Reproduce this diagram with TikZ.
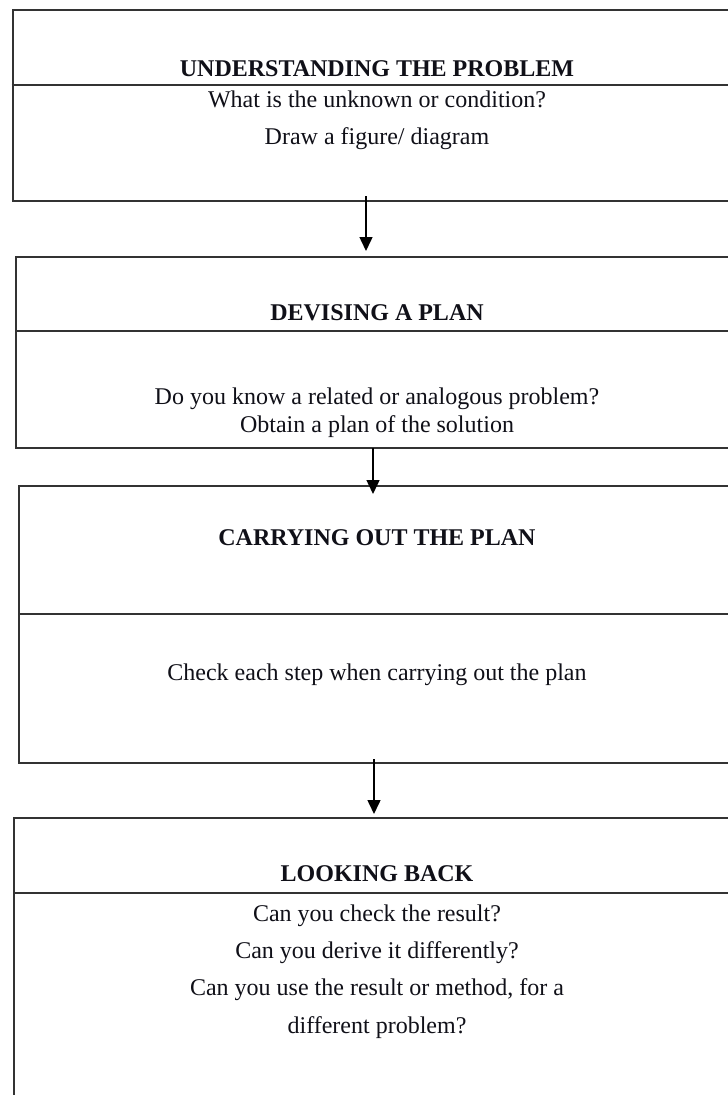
\documentclass[tikz,border=0pt]{standalone}
\usepackage{fontspec}
\setmainfont{Liberation Serif}
\usetikzlibrary{arrows.meta}
\definecolor{linegray}{HTML}{333333}
\definecolor{inkcol}{HTML}{101018}
\begin{document}
\begin{tikzpicture}[x=1pt,y=-1pt,
  boxline/.style={draw=linegray, line width=2pt},
  panel/.style={boxline, rectangle, inner sep=0pt, anchor=north west, minimum width=760pt},
  ttl/.style={font=\fontsize{24}{28}\selectfont\bfseries, text=inkcol, anchor=base, inner sep=0pt},
  txt/.style={font=\fontsize{24}{28}\selectfont, text=inkcol, anchor=base, inner sep=0pt},
  flow/.style={-{Triangle[length=14pt,width=13pt]}, line width=1.5pt, black}]
\useasboundingbox (0,0) rectangle (728,1095);
\clip (0,0) rectangle (728,1095);
\fill[white] (0,0) rectangle (728,1095);

% boxes
\node[panel, minimum height=190.7pt] (b1) at (11.7,9.3) {};
\node[panel, minimum height=191pt] (b2) at (15,256) {};
\node[panel, minimum height=277pt] (b3) at (18.3,485) {};
\node[panel, minimum height=320pt] (b4) at (13.3,817) {};

% dividers
\coordinate (d1) at (0,84.5);
\coordinate (d2) at (0,331);
\coordinate (d3) at (0,614);
\coordinate (d4) at (0,893);
\draw[boxline] (b1.west |- d1) -- (b1.east |- d1);
\draw[boxline] (b2.west |- d2) -- (b2.east |- d2);
\draw[boxline] (b3.west |- d3) -- (b3.east |- d3);
\draw[boxline] (b4.west |- d4) -- (b4.east |- d4);

% texts
\node[ttl] (t1) at (377,76) {UNDERSTANDING THE PROBLEM};
\node[txt] (l11) at (377,107) {What is the unknown or condition?};
\node[txt] (l12) at (377,144) {Draw a figure/ diagram};

\node[ttl] (t2) at (377,320) {DEVISING A PLAN};
\node[txt] (l21) at (377,404) {Do you know a related or analogous problem?};
\node[txt] (l22) at (377,432) {Obtain a plan of the solution};

\node[ttl] (t3) at (377,545) {CARRYING OUT THE PLAN};
\node[txt] (l31) at (377,680) {Check each step when carrying out the plan};

\node[ttl] (t4) at (377,881) {LOOKING BACK};
\node[txt] (l41) at (377,921) {Can you check the result?};
\node[txt] (l42) at (377,958) {Can you derive it differently?};
\node[txt] (l43) at (377,995) {Can you use the result or method, for a};
\node[txt] (l44) at (377,1033) {different problem?};

% arrows
\coordinate (a1s) at (366,196);
\coordinate (a1e) at (366,251);
\coordinate (a2s) at (373,448);
\coordinate (a2e) at (373,494);
\coordinate (a3s) at (374,759);
\coordinate (a3e) at (374,814);
\draw[flow] (a1s) -- (a1e);
\draw[flow] (a2s) -- (a2e);
\draw[flow] (a3s) -- (a3e);
\end{tikzpicture}
\end{document}
